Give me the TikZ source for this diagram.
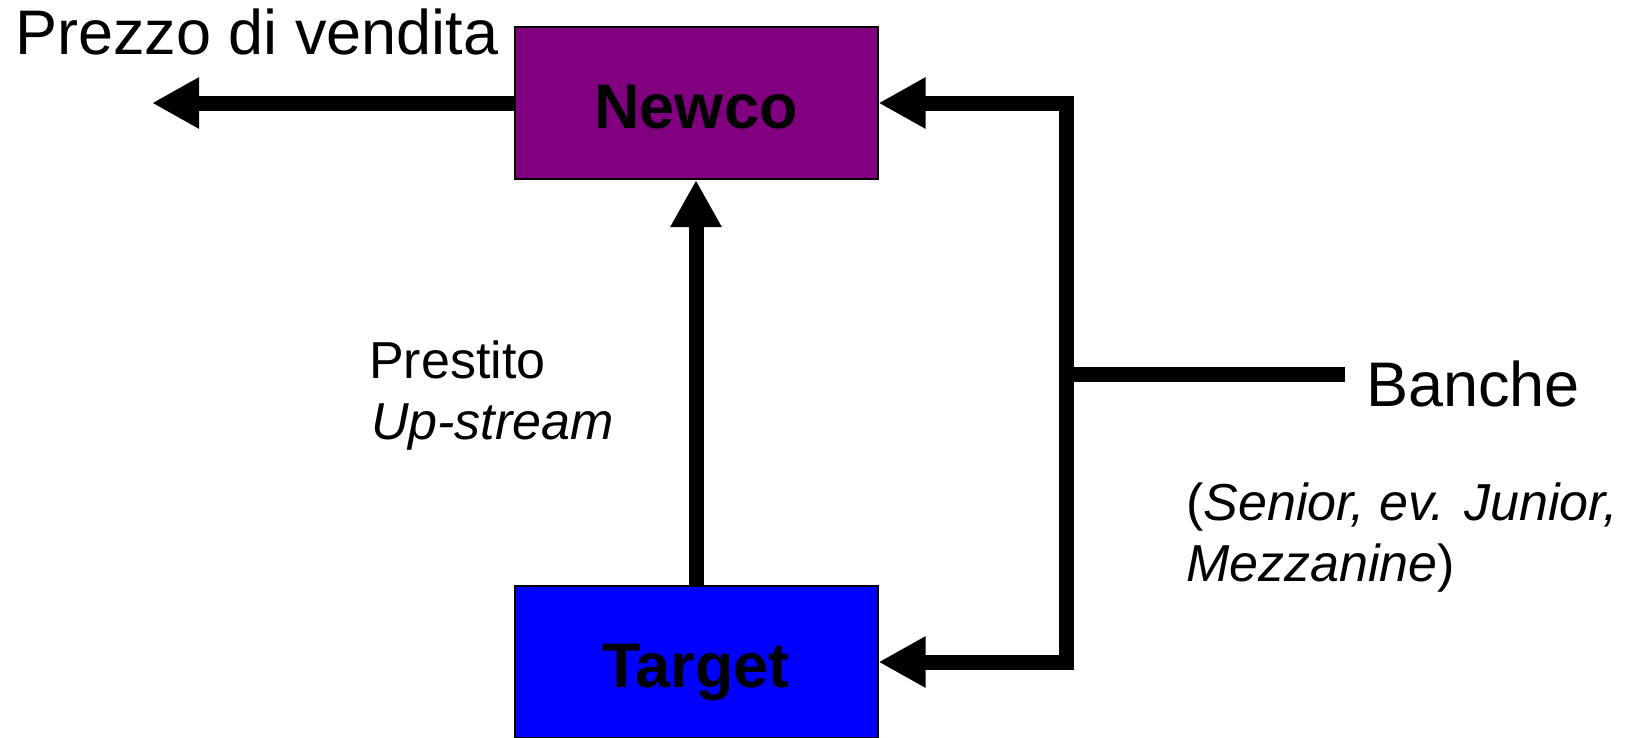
\documentclass[tikz,border=0pt]{standalone}
\usepackage{fontspec}
\setmainfont{Liberation Sans}
\usetikzlibrary{arrows.meta}
\definecolor{newcopurple}{HTML}{800080}
\definecolor{targetblue}{HTML}{0000FF}
\tikzset{
  box/.style={draw=black, line width=2pt, minimum width=363pt, minimum height=152pt, inner sep=0pt,
    text height=50pt, text depth=0pt,
    font=\fontsize{63}{70}\selectfont\bfseries},
  bigtext/.style={inner sep=0pt, anchor=base west, font=\fontsize{63}{70}\selectfont},
  smalltext/.style={inner sep=0pt, anchor=base west, font=\fontsize{52}{63}\selectfont},
  flow/.style={line width=15pt, line join=miter},
  tip/.style={-{Triangle[length=47pt,width=48pt]}},
}
\begin{document}
\begin{tikzpicture}[x=1pt,y=-1pt]
\useasboundingbox (0,0) rectangle (1639,737);
\node[box, fill=newcopurple] (newco) at (696,103) {Newco};
\node[box, fill=targetblue] (target) at (696,662) {Target};
\node[bigtext] (prezzo) at (15,54) {Prezzo di vendita};
\node[bigtext] (banche) at (1366,406) {Banche};
\node[smalltext] (senior) at (1186,520) {(\textit{Senior, ev. Junior,}};
\node[smalltext] (mezz) at (1186,581) {\textit{Mezzanine})};
\node[smalltext] (prestito) at (369,378) {Prestito};
\node[smalltext] (upstream) at (371,439) {\textit{Up-stream}};
\coordinate (leftend) at (152,103);
\coordinate (jtop) at (1066,103);
\coordinate (jbot) at (1066,662);
\coordinate (jmid) at (1066,374);
\coordinate (bankend) at (1345,374);
\draw[flow, tip] (newco.west) -- (leftend);
\draw[flow, tip] (target.north) -- (newco.south);
\draw[flow, {Triangle[length=47pt,width=48pt]}-{Triangle[length=47pt,width=48pt]}] (newco.east) -- (jtop) -- (jbot) -- (target.east);
\draw[flow] (jmid) -- (bankend);
\end{tikzpicture}
\end{document}
